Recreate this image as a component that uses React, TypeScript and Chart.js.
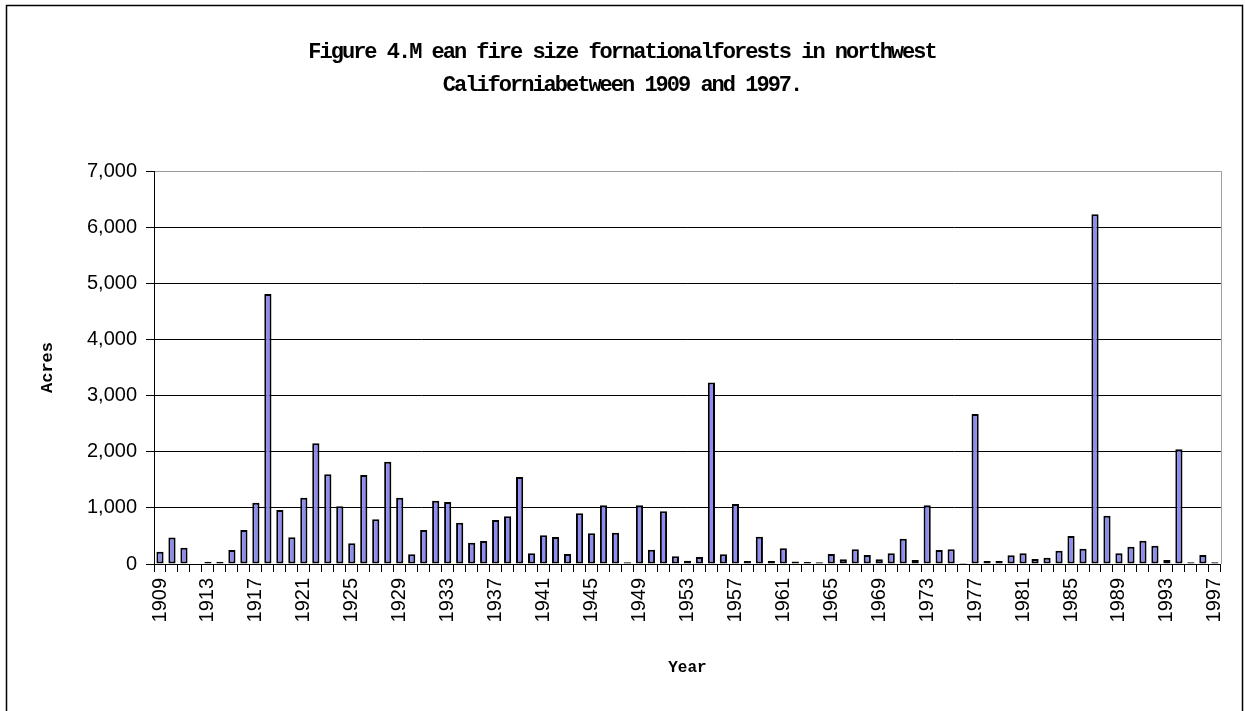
import { useEffect, useRef } from "react";
import { Chart, registerables } from "chart.js";

Chart.register(...registerables);

const years = [
  "1909", "1910", "1911", "1912", "1913", "1914", "1915", "1916", "1917", "1918",
  "1919", "1920", "1921", "1922", "1923", "1924", "1925", "1926", "1927", "1928",
  "1929", "1930", "1931", "1932", "1933", "1934", "1935", "1936", "1937", "1938",
  "1939", "1940", "1941", "1942", "1943", "1944", "1945", "1946", "1947", "1948",
  "1949", "1950", "1951", "1952", "1953", "1954", "1955", "1956", "1957", "1958",
  "1959", "1960", "1961", "1962", "1963", "1964", "1965", "1966", "1967", "1968",
  "1969", "1970", "1971", "1972", "1973", "1974", "1975", "1976", "1977", "1978",
  "1979", "1980", "1981", "1982", "1983", "1984", "1985", "1986", "1987", "1988",
  "1989", "1990", "1991", "1992", "1993", "1994", "1995", "1996", "1997",
];

const meanFireSizeAcres = [
  220, 470, 290, 0, 40, 40, 250, 605, 1090, 4810,
  960, 475, 1180, 2150, 1600, 1030, 370, 1585, 795, 1820,
  1180, 175, 605, 1128, 1104, 736, 380, 410, 783, 849,
  1549, 190, 510, 481, 178, 902, 546, 1045, 558, 30,
  1045, 255, 938, 137, 60, 125, 3234, 172, 1068, 55,
  487, 55, 279, 45, 35, 30, 178, 83, 261, 160,
  83, 190, 451, 71, 1045, 249, 261, 20, 2671, 55,
  55, 154, 190, 89, 113, 237, 499, 273, 6231, 861,
  190, 309, 415, 326, 71, 2042, 30, 160, 30,
];

const shownYearLabels = [
  "1909", "1913", "1917", "1921", "1925", "1929", "1933", "1937", "1941", "1945",
  "1949", "1953", "1957", "1961", "1965", "1969", "1973", "1977", "1981", "1985",
  "1989", "1993", "1997",
];

const yMin = 0;
const yMax = 7000;
const yStep = 1000;

const titleLines = [
  "Figure 4.M ean fire size fornationalforests in northwest",
  "Californiabetween 1909 and 1997.",
];
const yAxisTitle = "Acres";
const xAxisTitle = "Year";

const W = 1245;
const H = 711;

const decorPlugin = {
  id: "decor",
  afterDraw(chart: any) {
    const { ctx, chartArea } = chart;
    ctx.save();
    // plot area right border (grey)
    ctx.strokeStyle = "#a0a0a0";
    ctx.lineWidth = 1;
    ctx.beginPath();
    ctx.moveTo(Math.round(chartArea.right) + 0.5, chartArea.top);
    ctx.lineTo(Math.round(chartArea.right) + 0.5, chartArea.bottom);
    ctx.stroke();
    // outer frame
    ctx.strokeStyle = "#000";
    ctx.lineWidth = 1.5;
    ctx.strokeRect(6.5, 5.5, 1236, 730);
    // title
    ctx.fillStyle = "#000";
    ctx.font = 'bold 22px "Liberation Mono", "Courier New", monospace';
    try {
      (ctx as any).letterSpacing = "-2px";
    } catch (e) {}
    ctx.textAlign = "center";
    ctx.textBaseline = "middle";
    titleLines.forEach((t, i) => ctx.fillText(t, 622, 52 + i * 33));
    ctx.restore();
  },
};

export default function App() {
  const ref = useRef<HTMLCanvasElement | null>(null);

  useEffect(() => {
    if (!ref.current) return;
    const chart = new Chart(ref.current, {
      type: "bar",
      data: {
        labels: years,
        datasets: [
          {
            data: meanFireSizeAcres,
            backgroundColor: "#8c8cf2",
            borderColor: "#000",
            borderWidth: 2,
            borderSkipped: false,
            barPercentage: 0.6,
            categoryPercentage: 1,
          },
        ],
      },
      options: {
        animation: false,
        responsive: false,
        maintainAspectRatio: false,
        layout: { padding: { left: 30, right: 23, top: 171, bottom: 0 } },
        plugins: {
          legend: { display: false },
          title: { display: false },
          tooltip: { enabled: false },
        },
        scales: {
          x: {
            afterFit: (s: any) => {
              s.height = 147;
            },
            grid: {
              display: true,
              drawOnChartArea: false,
              drawTicks: true,
              tickLength: 8,
              color: "#000",
              offset: true,
            },
            border: { display: true, color: "#000", width: 1 },
            ticks: {
              autoSkip: false,
              maxRotation: 90,
              minRotation: 90,
              padding: 6,
              color: "#000",
              font: { family: '"Liberation Sans", Arial, sans-serif', size: 20 },
              callback: (_v: any, i: number) =>
                shownYearLabels.includes(years[i]) ? years[i] : "",
            },
            title: {
              display: true,
              text: xAxisTitle,
              color: "#000",
              font: { family: '"Liberation Mono", "Courier New", monospace', size: 16, weight: "bold" },
              padding: { top: 0, bottom: 33 },
            },
          },
          y: {
            min: yMin,
            max: yMax,
            afterFit: (s: any) => {
              s.width = 124;
            },
            grid: {
              color: (c: any) => (c.tick && c.tick.value === yMax ? "#9a9a9a" : "#000"),
              tickColor: "#000",
              tickLength: 8,
              lineWidth: 1,
            },
            border: { display: true, color: "#000", width: 1 },
            ticks: {
              stepSize: yStep,
              padding: 9,
              color: "#000",
              font: { family: '"Liberation Sans", Arial, sans-serif', size: 20 },
              callback: (v: any) => Number(v).toLocaleString("en-US"),
            },
            title: {
              display: true,
              text: yAxisTitle,
              color: "#000",
              font: { family: '"Liberation Mono", "Courier New", monospace', size: 17, weight: "bold" },
              padding: { top: 8, bottom: 0 },
            },
          },
        },
      },
      plugins: [decorPlugin],
    });
    return () => chart.destroy();
  }, []);

  return (
    <div style={{ position: "absolute", left: 0, top: 0, width: W, height: H, background: "#fff" }}>
      <canvas ref={ref} width={W} height={H} style={{ display: "block" }} />
    </div>
  );
}
